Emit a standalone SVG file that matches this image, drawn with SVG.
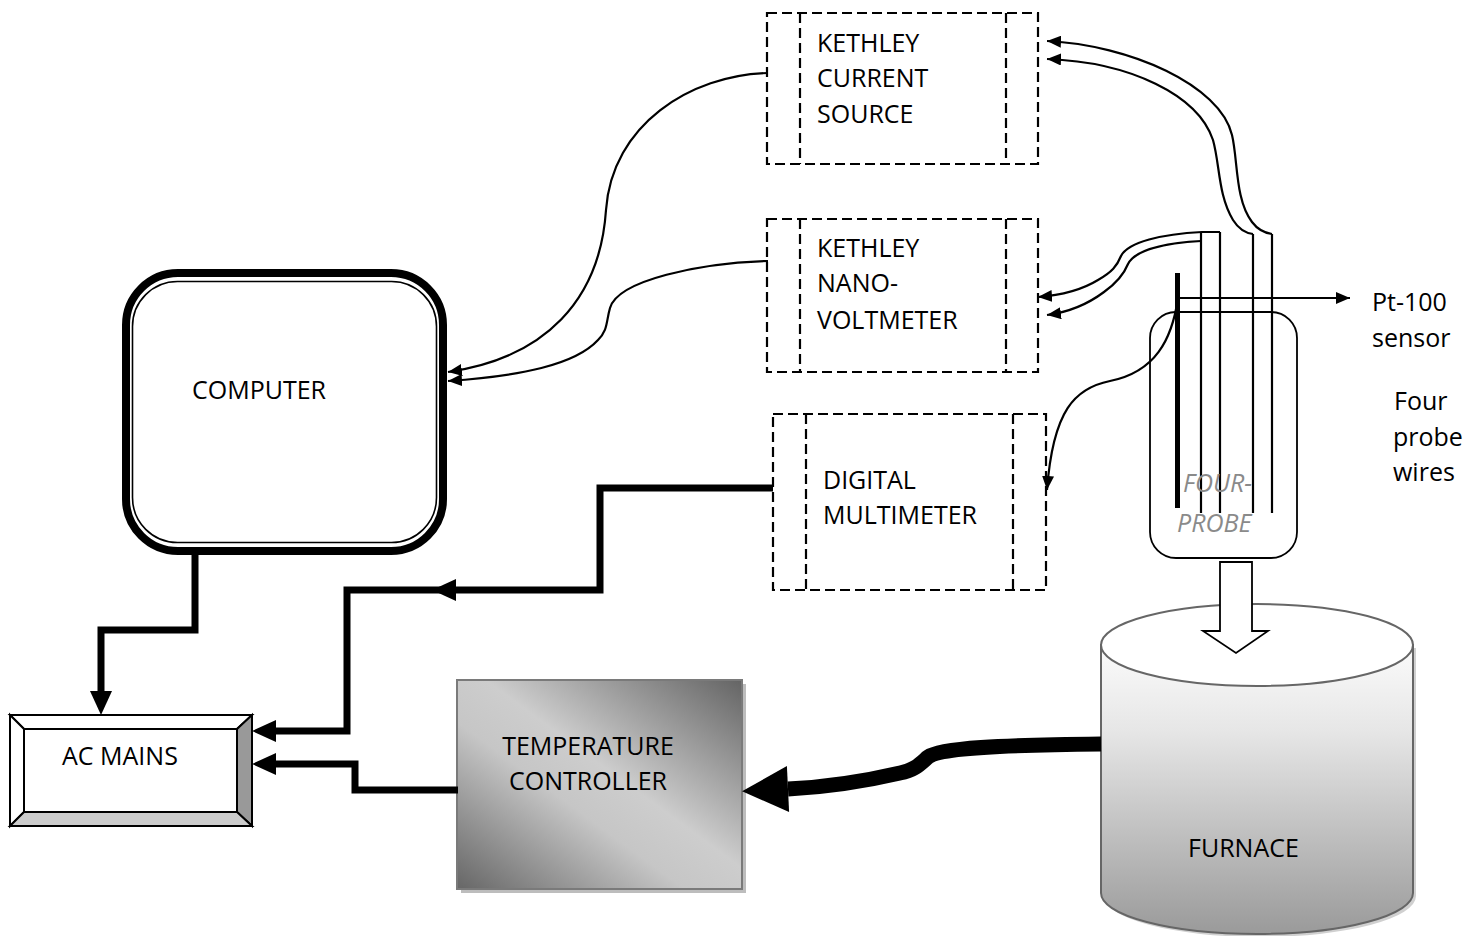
<svg xmlns="http://www.w3.org/2000/svg" width="1481" height="936" viewBox="0 0 1481 936">
<style>
 .lbl{font-family:"Open Sans","Liberation Sans",sans-serif;font-size:25px;fill:#000}
 .ital{font-family:"Open Sans","Liberation Sans",sans-serif;font-size:25px;fill:#8a8a8a;font-style:italic}
 .dash{fill:none;stroke:#000;stroke-width:2.2;stroke-dasharray:10 5}
 .thin{fill:none;stroke:#000;stroke-width:2.2}
 .thick{fill:none;stroke:#000;stroke-width:7}
 .bev{stroke:#000;stroke-width:2;stroke-linejoin:miter}
</style>
<defs>
 <marker id="ah" markerUnits="userSpaceOnUse" markerWidth="14" markerHeight="12" refX="14" refY="6" orient="auto">
  <path d="M0,0 L14,6 L0,12 z" fill="#000"/>
 </marker>
 <marker id="ahT" markerUnits="userSpaceOnUse" markerWidth="24" markerHeight="22" refX="0" refY="11" orient="auto" overflow="visible">
  <path d="M0,0 L24,11 L0,22 z" fill="#000"/>
 </marker>
 <marker id="ahB" markerUnits="userSpaceOnUse" markerWidth="46" markerHeight="46" refX="0" refY="23" orient="auto" overflow="visible">
  <path d="M0,0 L46,23 L0,46 z" fill="#000"/>
 </marker>
 <linearGradient id="tcGrad" x1="1" y1="0" x2="0" y2="1">
  <stop offset="0" stop-color="#646464"/>
  <stop offset="0.45" stop-color="#cdcdcd"/>
  <stop offset="0.6" stop-color="#c6c6c6"/>
  <stop offset="1" stop-color="#666"/>
 </linearGradient>
 <linearGradient id="fuGrad" x1="0" y1="0" x2="0" y2="1">
  <stop offset="0" stop-color="#fbfbfb"/>
  <stop offset="0.3" stop-color="#e6e6e6"/>
  <stop offset="1" stop-color="#9a9a9a"/>
 </linearGradient>
</defs>
<rect width="1481" height="936" fill="#fff"/>

<g id="kethley-current-source">
 <rect class="dash" x="767" y="13" width="271" height="151"/>
 <line class="dash" x1="800" y1="13" x2="800" y2="164"/>
 <line class="dash" x1="1006" y1="13" x2="1006" y2="164"/>
 <text class="lbl" x="817" y="52">KETHLEY</text>
 <text class="lbl" x="817" y="87">CURRENT</text>
 <text class="lbl" x="817" y="123">SOURCE</text>
</g>

<g id="kethley-nanovoltmeter">
 <rect class="dash" x="767" y="219" width="271" height="153"/>
 <line class="dash" x1="800" y1="219" x2="800" y2="372"/>
 <line class="dash" x1="1006" y1="219" x2="1006" y2="372"/>
 <text class="lbl" x="817" y="257">KETHLEY</text>
 <text class="lbl" x="817" y="292">NANO-</text>
 <text class="lbl" x="817" y="329">VOLTMETER</text>
</g>

<g id="digital-multimeter">
 <rect class="dash" x="773" y="414" width="273" height="176"/>
 <line class="dash" x1="806" y1="414" x2="806" y2="590"/>
 <line class="dash" x1="1013" y1="414" x2="1013" y2="590"/>
 <text class="lbl" x="823" y="489">DIGITAL</text>
 <text class="lbl" x="823" y="524">MULTIMETER</text>
</g>

<g id="computer">
 <rect x="126" y="273" width="317" height="278" rx="52" fill="#fff" stroke="#000" stroke-width="8"/>
 <rect x="132.5" y="281.5" width="304" height="261" rx="45" fill="none" stroke="#000" stroke-width="1.6"/>
 <text class="lbl" x="192" y="399">COMPUTER</text>
</g>

<g id="ac-mains">
 <rect x="10" y="715" width="242" height="111" fill="#fff" stroke="#000" stroke-width="2"/>
 <polygon class="bev" points="10,715 252,715 237,729 24,729" fill="#fff"/>
 <polygon class="bev" points="10,715 24,729 24,812 10,826" fill="#fff"/>
 <polygon class="bev" points="252,715 252,826 237,812 237,729" fill="#999"/>
 <polygon class="bev" points="10,826 252,826 237,812 24,812" fill="#ccc"/>
 <rect x="24" y="729" width="213" height="83" fill="#fff" stroke="#000" stroke-width="2"/>
 <text class="lbl" x="62" y="765">AC MAINS</text>
</g>

<g id="temperature-controller">
 <rect x="461" y="684" width="285" height="209" fill="#bdbdbd"/>
 <rect x="457" y="680" width="285" height="209" fill="url(#tcGrad)" stroke="#7a7a7a" stroke-width="2"/>
 <text class="lbl" x="588" y="755" text-anchor="middle">TEMPERATURE</text>
 <text class="lbl" x="588" y="790" text-anchor="middle">CONTROLLER</text>
</g>

<g id="furnace">
 <path d="M1104,648 L1104,896 A156,41 0 0 0 1416,896 L1416,648 Z" fill="#d0d0d0"/>
 <path d="M1101,645 L1101,893 A156,41 0 0 0 1413,893 L1413,645 Z" fill="url(#fuGrad)" stroke="#666" stroke-width="2"/>
 <ellipse cx="1257" cy="645" rx="156" ry="41" fill="#fff" stroke="#666" stroke-width="2"/>
 <text class="lbl" x="1188" y="857">FURNACE</text>
</g>

<g id="four-probe">
 <rect x="1150" y="312" width="147" height="246" rx="26" fill="none" stroke="#000" stroke-width="1.8"/>
 <rect x="1175" y="273" width="5" height="235" fill="#000"/>
 <line class="thin" x1="1201" y1="233" x2="1201" y2="513"/>
 <line class="thin" x1="1220" y1="232" x2="1220" y2="513"/>
 <line class="thin" x1="1253" y1="234" x2="1253" y2="513"/>
 <line class="thin" x1="1272" y1="234" x2="1272" y2="513"/>
 <text class="ital" x="1183" y="492">FOUR-</text>
 <text class="ital" x="1177" y="532">PROBE</text>
 <polygon points="1220,562 1252,562 1252,631 1268,631 1236,653 1203,631 1220,631" fill="#fff" stroke="#000" stroke-width="1.8"/>
</g>

<g id="pt100-label">
 <text class="lbl" x="1372" y="311">Pt-100</text>
 <text class="lbl" x="1372" y="347">sensor</text>
</g>
<g id="wires-label">
 <text class="lbl" x="1394" y="410">Four</text>
 <text class="lbl" x="1393" y="446">probe</text>
 <text class="lbl" x="1393" y="481">wires</text>
</g>

<g id="connectors">
 <path class="thin" marker-end="url(#ah)" d="M768,73 C690,75 612,125 606,210 C600,300 545,358 448,372"/>
 <path class="thin" marker-end="url(#ah)" d="M768,261 C700,263 618,280 610,308 C606,322 608,330 598,340 C575,365 520,376 448,381"/>
 <path class="thin" marker-end="url(#ah)" d="M1272,234 C1265,233 1258,230 1252,222 C1235,200 1238,160 1232,135 C1220,85 1130,45 1047,41"/>
 <path class="thin" marker-end="url(#ah)" d="M1253,234 C1245,233 1238,228 1233,220 C1218,195 1220,165 1213,140 C1198,95 1130,62 1047,59"/>
 <path class="thin" marker-end="url(#ah)" d="M1220,232 L1202,232 C1162,234 1128,242 1121,256 C1117,266 1112,272 1098,280 C1085,288 1065,295 1038,297"/>
 <path class="thin" marker-end="url(#ah)" d="M1201,241 C1165,243 1135,250 1128,264 C1124,274 1118,282 1104,292 C1088,304 1070,312 1047,315"/>
 <path class="thin" marker-end="url(#ah)" d="M1178,298 C1172,340 1155,372 1110,381 C1075,388 1053,410 1047,490"/>
 <path class="thin" marker-end="url(#ah)" d="M1177,298 L1350,298"/>
 <path class="thick" marker-end="url(#ahT)" d="M195,555 L195,630 L101,630 L101,691"/>
 <path class="thick" marker-end="url(#ahT)" d="M773,488 L600,488 L600,590 L347,590 L347,731 L276,731"/>
 <polygon points="432,590 456,579 456,601" fill="#000"/>
 <path class="thick" marker-end="url(#ahT)" d="M458,790 L355,790 L355,764 L276,764"/>
 <path fill="none" stroke="#000" stroke-width="15" marker-end="url(#ahB)" d="M1101,744 C1000,745 940,748 928,757 C920,764 915,770 900,773 C870,780 830,787 788,789"/>
</g>
</svg>
